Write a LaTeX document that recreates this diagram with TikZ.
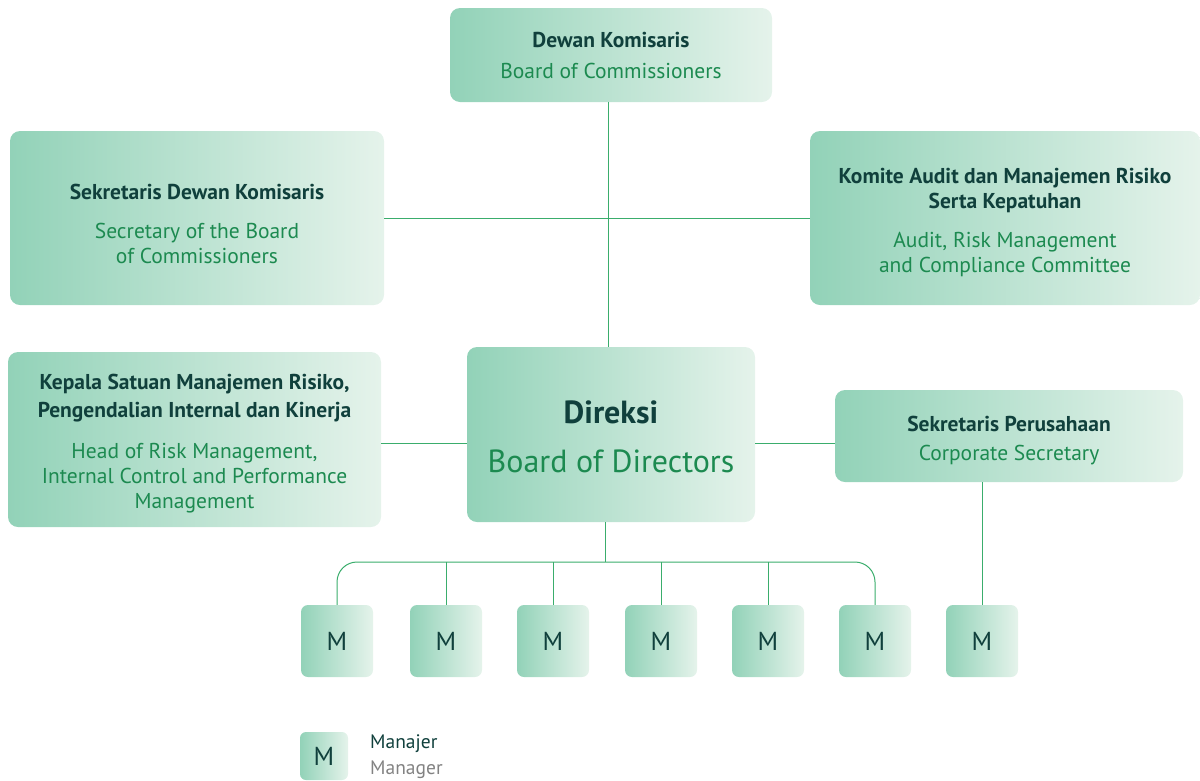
\documentclass[tikz,border=0pt]{standalone}
\usepackage{fontspec}
\setmainfont{PT Sans}
\usetikzlibrary{positioning}
\definecolor{boxleft}{RGB}{146,210,184}
\definecolor{boxright}{RGB}{229,243,235}
\definecolor{darktext}{RGB}{16,64,60}
\definecolor{greentext}{RGB}{28,138,80}
\definecolor{linkgreen}{RGB}{58,173,108}
\definecolor{graytext}{RGB}{130,130,130}
\tikzset{
  orgbox/.style={rounded corners=10pt, left color=boxleft, right color=boxright,
    inner sep=0pt, align=center, text=greentext, font=\fontsize{21.5}{25}\selectfont},
  mbox/.style={rounded corners=7pt, left color=boxleft, right color=boxright,
    minimum width=72pt, minimum height=72pt, inner sep=0pt, text=darktext,
    font=\fontsize{26}{28}\selectfont},
  link/.style={draw=linkgreen, line width=1pt}
}
\newcommand{\hd}[1]{{\bfseries\color{darktext}#1}}
\newcommand{\topgap}[1]{\rule{0pt}{#1}}
\begin{document}
\begin{tikzpicture}[x=1pt,y=-1pt]
			 \useasboundingbox (0,0) rectangle (1200,780);
			 \node[orgbox, minimum width=322pt, minimum height=94pt] (dewan) at (611,55)
			   {\hd{Dewan Komisaris}\\[6pt]Board of Commissioners};
			 \node[orgbox, minimum width=374pt, minimum height=174pt] (sekdewan) at (197,218)
			   {\topgap{27pt}\hd{Sekretaris Dewan Komisaris}\\[14pt]Secretary of the Board\\of Commissioners};
			 \node[orgbox, minimum width=390pt, minimum height=174pt] (komite) at (1005,218)
			   {\topgap{25pt}\hd{Komite Audit dan Manajemen Risiko}\\\hd{Serta Kepatuhan}\\[14pt]Audit, Risk Management\\and Compliance Committee};
			 \node[orgbox, minimum width=288pt, minimum height=175pt, font=\fontsize{32}{36}\selectfont] (direksi) at (611,434.5)
			   {\topgap{27pt}\hd{Direksi}\\[13pt]Board of Directors};
			 \node[orgbox, minimum width=373pt, minimum height=175pt] (kepala) at (194.5,439.5)
			   {\topgap{24pt}\hd{Kepala Satuan Manajemen Risiko,}\\[3pt]\hd{Pengendalian Internal dan Kinerja}\\[16pt]Head of Risk Management,\\Internal Control and Performance\\Management};
			 \node[orgbox, minimum width=348pt, minimum height=92pt] (sekper) at (1009,436)
			   {\topgap{24pt}\hd{Sekretaris Perusahaan}\\[4pt]Corporate Secretary};
			 % managers
			 \node[mbox] (m1) at (337,641) {M};
			 \node[mbox] (m2) at (446,641) {M};
			 \node[mbox] (m3) at (553,641) {M};
			 \node[mbox] (m4) at (661,641) {M};
			 \node[mbox] (m5) at (768,641) {M};
			 \node[mbox] (m6) at (875,641) {M};
			 \node[mbox] (m7) at (982,641) {M};
			 % legend
			 \node[mbox, minimum width=48pt, minimum height=48pt, rounded corners=6pt] (mkey) at (324,756) {M};
			 \node[anchor=west, align=left, inner sep=0pt, font=\fontsize{19.5}{26}\selectfont] (mtext) at (370,757)
			   {\color{darktext}Manajer\\\color{graytext}Manager};
			 % lines
			 \coordinate (dirmid) at (611,443);
			 \coordinate (bus) at (605,562);
			 \draw[link] (dewan.south -| 608,0) -- (direksi.north -| 608,0);
			 \draw[link] (sekdewan.east) -- (komite.west);
			 \draw[link] (kepala.east |- dirmid) -- (direksi.west |- dirmid);
			 \draw[link] (direksi.east |- dirmid) -- (sekper.west |- dirmid);
			 \draw[link] (direksi.south -| bus) -- (bus);
			 \draw[link, rounded corners=20pt] (m1.north) -- (m1.north |- bus) -- (m6.north |- bus) -- (m6.north);
			 \draw[link] (m2.north) -- (m2.north |- bus);
			 \draw[link] (m3.north) -- (m3.north |- bus);
			 \draw[link] (m4.north) -- (m4.north |- bus);
			 \draw[link] (m5.north) -- (m5.north |- bus);
			 \draw[link] (m7.north |- sekper.south) -- (m7.north);
\end{tikzpicture}
\end{document}
